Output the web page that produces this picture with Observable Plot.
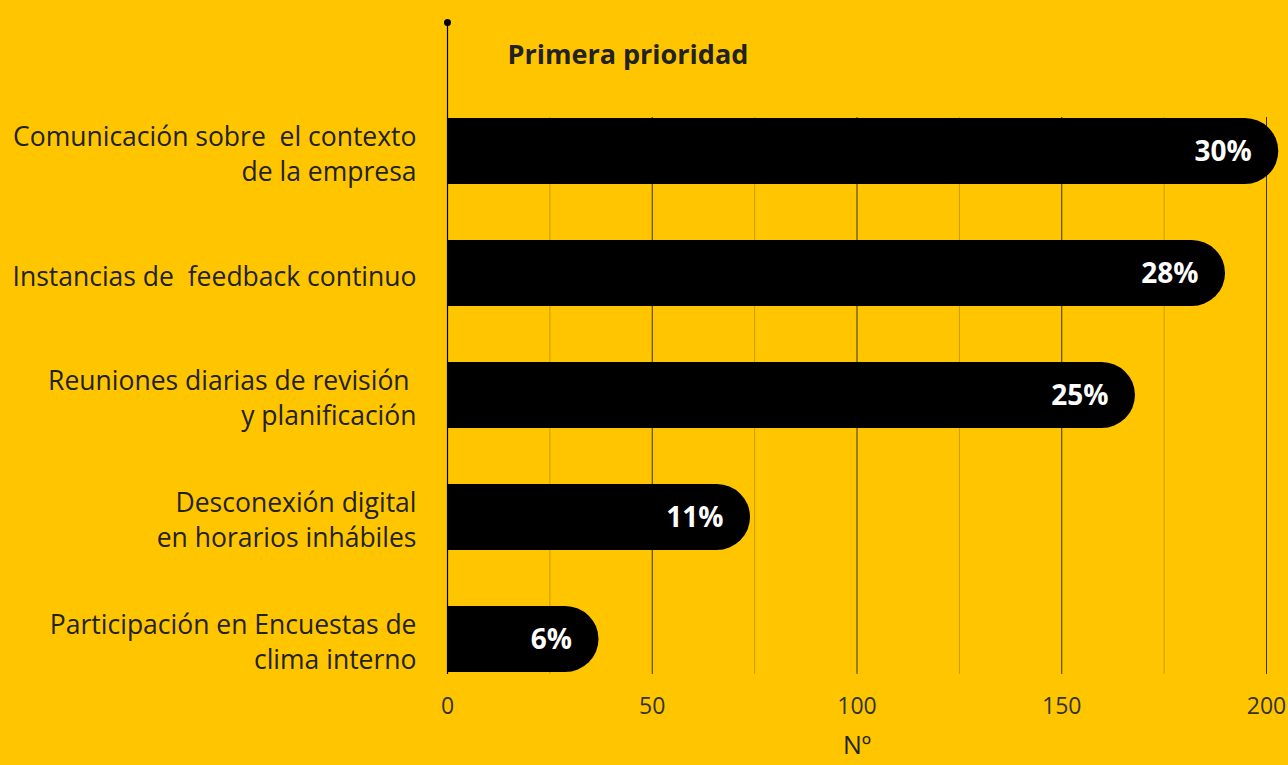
<!DOCTYPE html>
<html>
<head>
<meta charset="utf-8">
<script src="https://cdn.jsdelivr.net/npm/d3@7"></script>
<script src="https://cdn.jsdelivr.net/npm/@observablehq/plot@0.6"></script>
<style>
  html, body { margin: 0; padding: 0; background: #FFC600; }
  #chart svg text { white-space: pre; }
</style>
</head>
<body>
<div id="chart"></div>
<script>
const categories = [
  "Comunicación sobre  el contexto\nde la empresa",
  "Instancias de  feedback continuo",
  "Reuniones diarias de revisión \ny planificación",
  "Desconexión digital\nen horarios inhábiles",
  "Participación en Encuestas de\nclima interno"
];
const values = [203, 190, 168, 74, 37];
const percentLabels = ["30%", "28%", "25%", "11%", "6%"];
const majorTicks = [0, 50, 100, 150, 200];
const minorTicks = [25, 75, 125, 175];
const title = "Primera prioridad";
const xLabel = "Nº";

const data = categories.map((c, i) => ({cat: c, value: values[i], pct: percentLabels[i]}));

const font = "'Open Sans', sans-serif";
const barH = 66.7;

const chart = Plot.plot({
  width: 1288,
  height: 765,
  marginLeft: 447,
  marginRight: 22,
  marginTop: 117,
  marginBottom: 91,
  style: {background: "#FFC600", fontFamily: font, color: "#222"},
  x: {domain: [0, 200], ticks: majorTicks, label: null},
  y: {domain: categories, paddingInner: 0.456, paddingOuter: 0, axis: null},
  marks: [
    Plot.ruleX(minorTicks, {stroke: "#c79b00", strokeWidth: 1}),
    Plot.ruleX(majorTicks.filter(d => d > 0), {stroke: "#3a3320", strokeWidth: 1}),
    Plot.barX(data, {x: "value", y: "cat", fill: "#000", rx: barH / 2}),
    Plot.barX(data, {x: "value", y: "cat", fill: "#000", insetRight: barH / 2 + 1}),
    Plot.ruleX([0], {stroke: "#000", strokeWidth: 1.2, insetTop: -95}),
    Plot.dot([0], {x: d => d, frameAnchor: "top", dy: -95, r: 3.5, fill: "#000", stroke: null}),
    Plot.text(data, {x: "value", y: "cat", text: "pct", textAnchor: "end", dx: -27, dy: 1, fill: "#fff", fontWeight: "bold", fontSize: 28, fontFamily: font}),
    Plot.text(data, {y: "cat", text: "cat", frameAnchor: "left", textAnchor: "end", dx: -31, dy: 1, lineHeight: 1.3, fontSize: 26.5, fill: "#222", fontFamily: font}),
    Plot.text([title], {frameAnchor: "top-left", dx: 60, dy: -62, lineAnchor: "middle", textAnchor: "start", fontWeight: "bold", fontSize: 27, fill: "#222", fontFamily: font}),
    Plot.axisX({ticks: majorTicks, tickSize: 0, tickPadding: 23, fontSize: 23, label: null, color: "#333"}),
    Plot.text([xLabel], {frameAnchor: "bottom", dy: 71, lineAnchor: "middle", fontSize: 25, fill: "#222", fontFamily: font})
  ]
});
document.getElementById("chart").appendChild(chart);
</script>
</body>
</html>
